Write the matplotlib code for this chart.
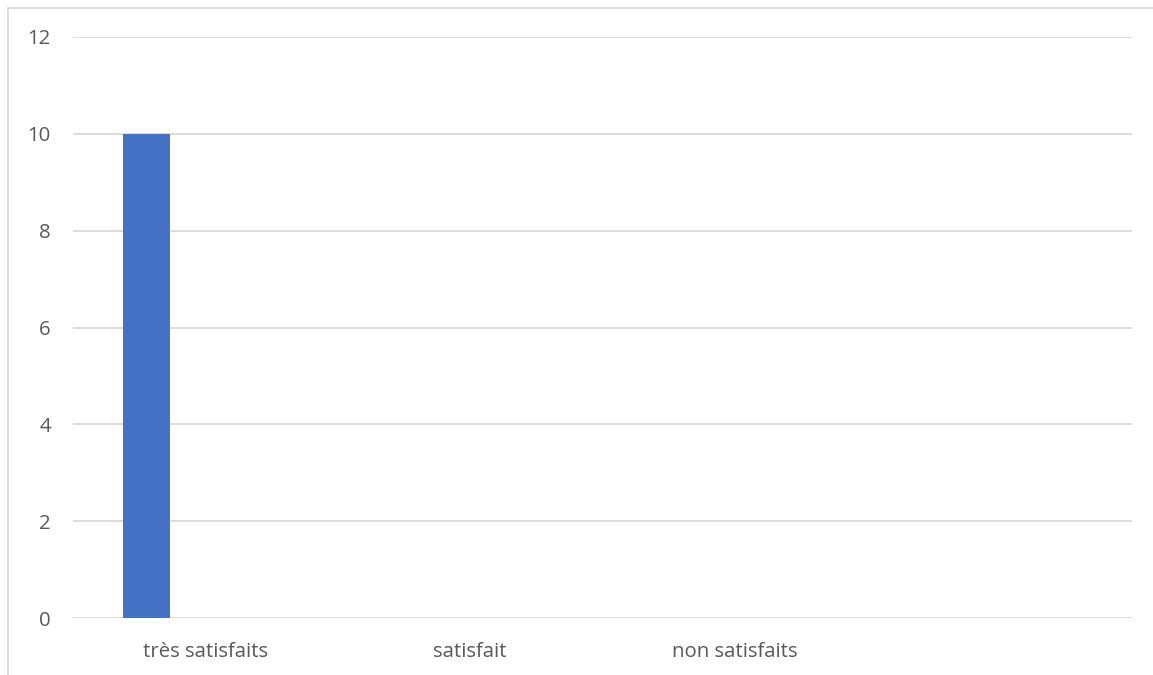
import matplotlib
matplotlib.use("Agg")
import matplotlib.pyplot as plt
from matplotlib.patches import Rectangle
import numpy as np

categories = ["très satisfaits", "satisfait", "non satisfaits", ""]
values = [10, 0, 0, 0]
y_ticks = [0, 2, 4, 6, 8, 10, 12]

plt.rcParams['font.family'] = ['Open Sans', 'DejaVu Sans']

W, H = 1153, 675
fig = plt.figure(figsize=(W / 100, H / 100), dpi=100)
ax = fig.add_axes([73 / W, 1 - 618 / H, (1132 - 73) / W, (618 - 37) / H])

x = np.arange(len(categories))
bar_offset = -0.223
bar_width = 0.177
ax.bar(x + bar_offset, values, width=bar_width, color="#4472C4", zorder=3)

ax.set_xlim(-0.5, len(categories) - 0.5)
ax.set_ylim(0, 12)
ax.set_yticks(y_ticks)
ax.set_yticklabels([str(v) for v in y_ticks])
ax.set_xticks(x)
ax.set_xticklabels(categories)
ax.grid(axis="y", color="#d9d9d9", linewidth=1.3, zorder=0)
ax.tick_params(axis="both", length=0, labelsize=14.7, labelcolor="#595959")
ax.tick_params(axis="y", pad=16)
ax.tick_params(axis="x", pad=17)
for s in ax.spines.values():
    s.set_visible(False)

# chart frame (left and top edges)
fig.add_artist(Rectangle((8 / W, -0.1), 1.2, 1 - 8 / H + 0.1,
                         transform=fig.transFigure, fill=False,
                         edgecolor="#d9d9d9", linewidth=1.3))

fig.savefig("out.png", dpi=100, facecolor="white")
